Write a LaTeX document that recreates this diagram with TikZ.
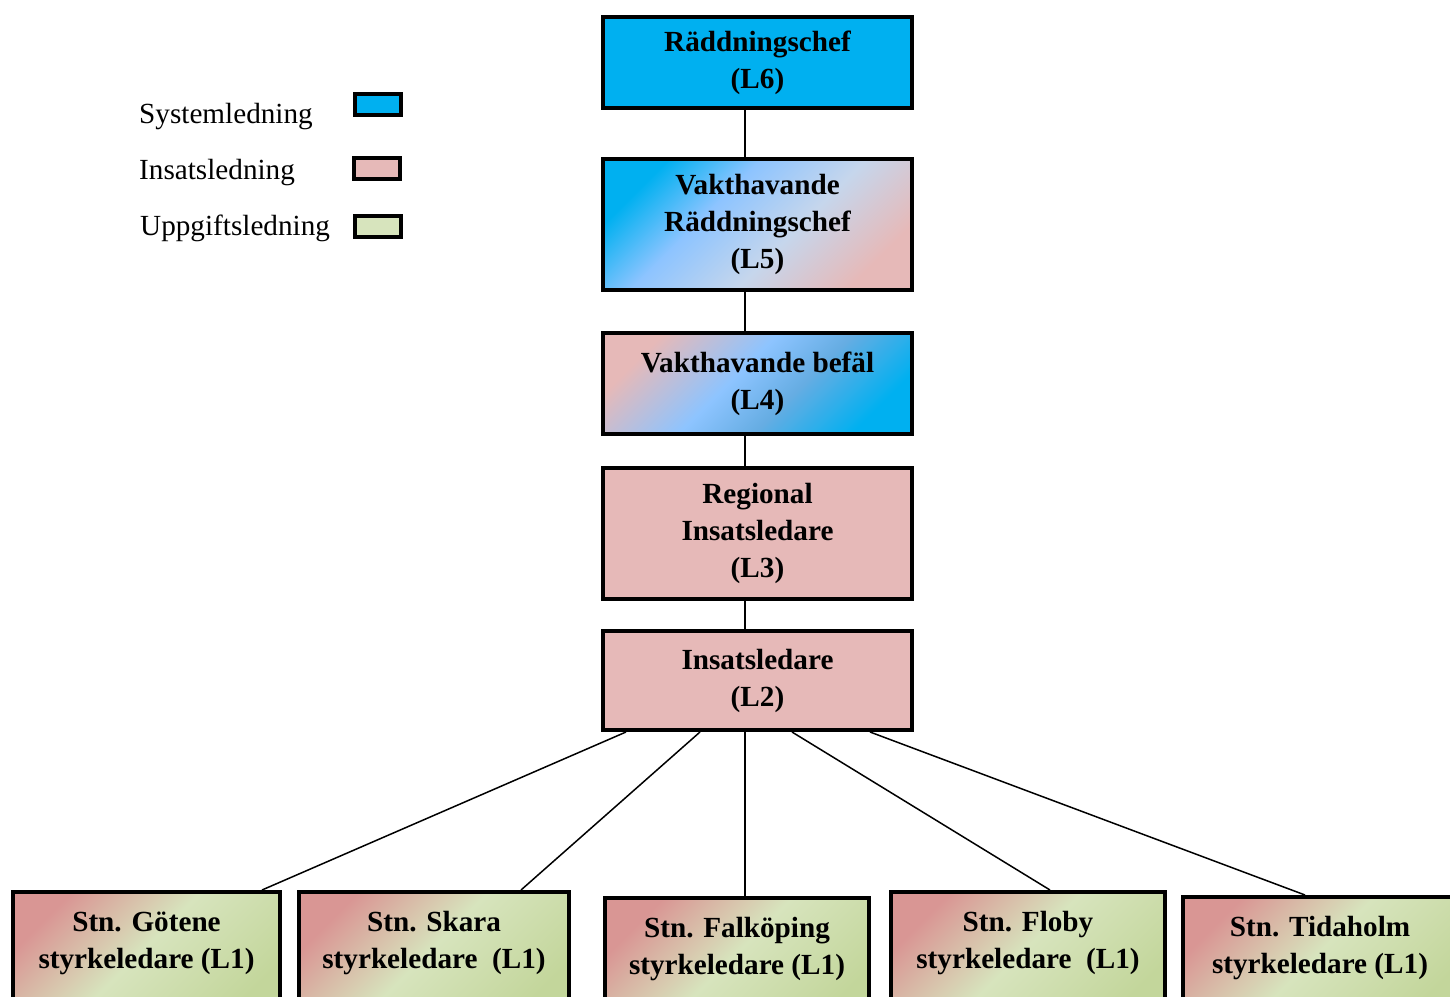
\documentclass[tikz,border=0pt]{standalone}
\usepackage{fontspec}
\setmainfont{Liberation Serif}
\usetikzlibrary{positioning}

\definecolor{sysblue}{RGB}{0,176,240}
\definecolor{insrose}{RGB}{230,185,184}
\definecolor{uppgreen}{RGB}{215,228,189}
\definecolor{skyblue}{RGB}{141,196,255}
\definecolor{paleblue}{RGB}{198,214,236}
\definecolor{stnrose}{RGB}{217,150,148}
\definecolor{stngreen}{RGB}{195,214,155}

\pgfdeclarehorizontalshading{vaktfem}{100bp}{color(0bp)=(sysblue); color(25bp)=(sysblue); color(40bp)=(skyblue); color(57bp)=(paleblue); color(75bp)=(insrose); color(100bp)=(insrose)}
\pgfdeclarehorizontalshading{vaktfyra}{100bp}{color(0bp)=(insrose); color(25bp)=(insrose); color(45bp)=(skyblue); color(58bp)=(skyblue!80!sysblue!90!black); color(75bp)=(sysblue); color(100bp)=(sysblue)}
\pgfdeclarehorizontalshading{stnshade}{100bp}{color(0bp)=(stnrose); color(25bp)=(stnrose); color(48bp)=(uppgreen); color(75bp)=(stngreen); color(100bp)=(stngreen)}

\newcommand\lvlfont{\fontsize{29.2}{37}\selectfont\bfseries}

\begin{document}
\begin{tikzpicture}[x=1pt, y=-1pt,
  lvl/.style={draw, line width=4pt, minimum width=309pt, align=center, font=\lvlfont, inner sep=0pt},
  stn/.style={draw, line width=4pt, minimum height=130pt, anchor=north, shade, shading=stnshade, shading angle=-45},
  stntext/.style={align=center, font=\lvlfont, inner sep=0pt},
  swatch/.style={draw, line width=4pt, minimum width=46pt, minimum height=21pt, inner sep=0pt},
  legtext/.style={anchor=base west, font=\fontsize{29.2}{37}\selectfont, inner sep=0pt},
  link/.style={line width=1.5pt}
]
\useasboundingbox (0,0) rectangle (1450,996);
\clip (0,0) rectangle (1450,996);

% legend
\node[legtext] (sysleg) at (139,123) {Systemledning};
\node[swatch, fill=sysblue] (sysbox) at (378,104.5) {};
\node[legtext] (insleg) at (139,179) {Insatsledning};
\node[swatch, fill=insrose] (insbox) at (377,168) {};
\node[legtext] (uppleg) at (140,235) {Uppgiftsledning};
\node[swatch, fill=uppgreen] (uppbox) at (377.5,226) {};

% command chain
\node[lvl, minimum height=91pt, fill=sysblue] (l6) at (757.5,62.5) {Räddningschef\\(L6)};
\node[lvl, minimum height=131pt, below=47pt of l6, shade, shading=vaktfem, shading angle=-45] (l5)
  {Vakthavande\\Räddningschef\\(L5)};
\node[lvl, minimum height=101pt, below=39pt of l5, shade, shading=vaktfyra, shading angle=-45] (l4)
  {Vakthavande befäl\\(L4)};
\node[lvl, minimum height=131pt, below=30pt of l4, fill=insrose] (l3) {Regional\\Insatsledare\\(L3)};
\node[lvl, minimum height=99pt, below=28pt of l3, fill=insrose] (l2) {Insatsledare\\(L2)};

\draw[link] ([xshift=-12.5pt]l6.south) -- ([xshift=-12.5pt]l5.north);
\draw[link] ([xshift=-12.5pt]l5.south) -- ([xshift=-12.5pt]l4.north);
\draw[link] ([xshift=-12.5pt]l4.south) -- ([xshift=-12.5pt]l3.north);
\draw[link] ([xshift=-12.5pt]l3.south) -- ([xshift=-12.5pt]l2.north);

% stations
\node[stn, minimum width=267pt] (goetene) at (146.5,890) {};
\node[stntext] (goetenetxt) at ([yshift=-53pt]goetene.north) {Stn. Götene\\styrkeledare (L1)};
\node[stn, minimum width=270pt] (skara) at (434,890) {};
\node[stntext] (skaratxt) at ([yshift=-53pt]skara.north) {Stn. Skara\\styrkeledare~ (L1)};
\node[stn, minimum width=264pt] (falkoping) at (737,896) {};
\node[stntext] (falkopingtxt) at ([yshift=-53pt]falkoping.north) {Stn. Falköping\\styrkeledare (L1)};
\node[stn, minimum width=274pt] (floby) at (1028,890) {};
\node[stntext] (flobytxt) at ([yshift=-53pt]floby.north) {Stn. Floby\\styrkeledare~ (L1)};
\node[stn, minimum width=274pt] (tidaholm) at (1320,895) {};
\node[stntext] (tidaholmtxt) at ([yshift=-53pt]tidaholm.north) {Stn. Tidaholm\\styrkeledare (L1)};

\draw[link] ([xshift=-131.5pt]l2.south) -- ([xshift=115.5pt]goetene.north);
\draw[link] ([xshift=-57.5pt]l2.south) -- ([xshift=87pt]skara.north);
\draw[link] ([xshift=-12.5pt]l2.south) -- ([xshift=8pt]falkoping.north);
\draw[link] ([xshift=34.5pt]l2.south) -- ([xshift=22pt]floby.north);
\draw[link] ([xshift=112.5pt]l2.south) -- ([xshift=-15pt]tidaholm.north);
\end{tikzpicture}
\end{document}
